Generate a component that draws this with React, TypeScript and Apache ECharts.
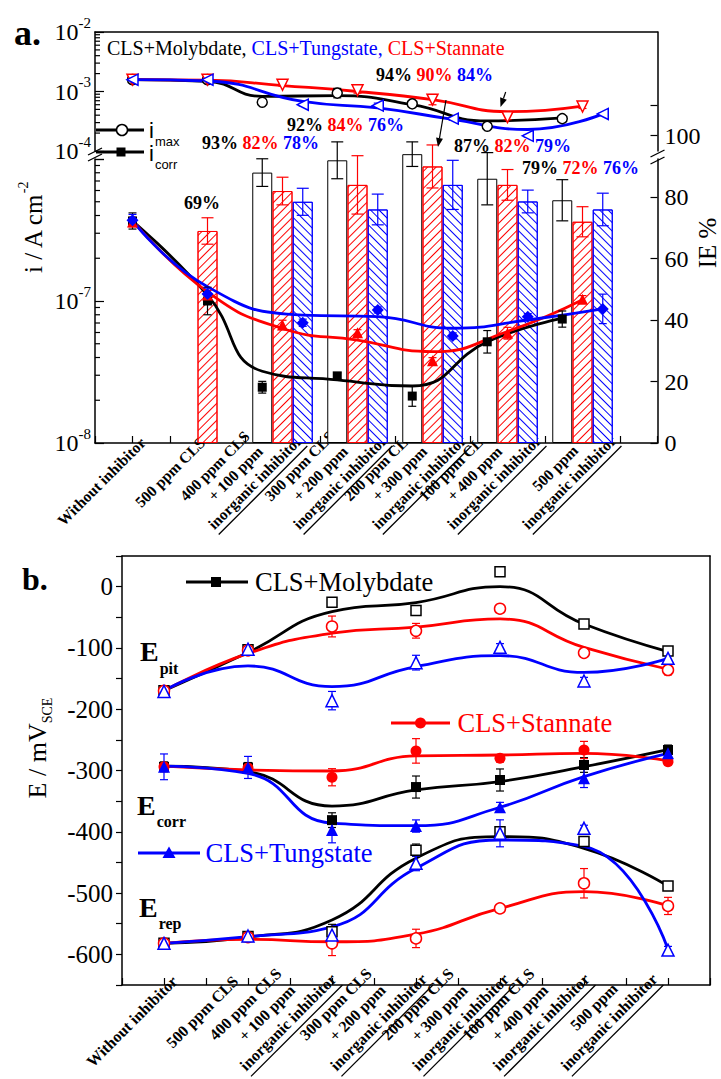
import React, { useEffect, useRef } from 'react';
import * as echarts from 'echarts';

const SERIF = 'Liberation Serif, Times New Roman, serif';
const SANS = 'Liberation Sans, Arial, sans-serif';
const BLACK = '#000000';
const RED = '#ff0000';
const BLUE = '#0000ff';

// ---------- categories ----------
const categories = [
  'Without inhibitor',
  '500 ppm CLS',
  '400 ppm CLS\n+ 100 ppm\ninorganic inhibitor',
  '300 ppm CLS\n+ 200 ppm\ninorganic inhibitor',
  '200 ppm CLS\n+ 300 ppm\ninorganic inhibitor',
  '100 ppm CLS\n+ 400 ppm\ninorganic inhibitor',
  '500 ppm\ninorganic inhibitor',
];

// ---------- panel a : i_max (A cm-2) ----------
const imaxMo = [1.58e-3, 1.58e-3, 6.6e-4, 9.4e-4, 6.2e-4, 2.6e-4, 3.5e-4];
const imaxSn = [1.58e-3, 1.58e-3, 1.3e-3, 1.05e-3, 7.3e-4, 3.7e-4, 5.6e-4];
const imaxW = [1.58e-3, 1.58e-3, 6.0e-4, 5.8e-4, 3.5e-4, 1.8e-4, 4.2e-4];
const imaxFitMo = [1.58e-3, 1.48e-3, 8.3e-4, 8.5e-4, 6.0e-4, 3.2e-4, 3.6e-4];
const imaxFitSn = [1.58e-3, 1.55e-3, 1.26e-3, 1.0e-3, 7.3e-4, 4.6e-4, 5.7e-4];
const imaxFitW = [1.58e-3, 1.5e-3, 6.8e-4, 5.3e-4, 3.4e-4, 2.3e-4, 4.2e-4];
const imaxErrMo = [1.08, 1.08, 1.1, 1.2, 1.1, 1.1, 1.05];
const imaxErrSn = [1.08, 1.08, 1.06, 1.12, 1.22, 1.1, 1.08];
const imaxErrW = [1.05, 1.05, 1.05, 1.1, 1.06, 1.05, 1.05];

// ---------- panel a : i_corr (A cm-2) ----------
const icorrMo = [3.66e-7, 1.0e-7, 2.47e-8, 2.97e-8, 2.14e-8, 5.16e-8, 7.46e-8];
const icorrSn = [3.6e-7, 1.1e-7, 6.78e-8, 5.98e-8, 3.8e-8, 5.93e-8, 1.03e-7];
const icorrW = [3.7e-7, 1.12e-7, 7.03e-8, 8.65e-8, 5.68e-8, 7.76e-8, 8.8e-8];
const icorrFitMo = [3.66e-7, 1.1e-7, 3.2e-8, 2.78e-8, 2.52e-8, 5.16e-8, 7.55e-8];
const icorrFitSn = [3.7e-7, 1.16e-7, 6.4e-8, 5.3e-8, 4.4e-8, 6.1e-8, 1.02e-7];
const icorrFitW = [3.7e-7, 1.26e-7, 7.96e-8, 7.76e-8, 6.43e-8, 7.35e-8, 8.8e-8];
const icorrErrMo = [1.14, 1.25, 1.1, 1.05, 1.18, 1.2, 1.14];
const icorrErrSn = [1.08, 1.08, 1.08, 1.05, 1.05, 1.1, 1.06];
const icorrErrW = [1.1, 1.1, 1.06, 1.05, 1.05, 1.05, 1.27];

// ---------- panel a : IE % bars ----------
const ieMo = [null, null, 88, 92, 94, 86, 79];
const ieSn = [null, 69, 82, 84, 90, 84, 72];
const ieW = [null, null, 78.5, 76, 84, 78.6, 76];
const ieErrMo = [0, 0, 4.5, 6, 4, 8.5, 6.7];
const ieErrSn = [0, 4.3, 4.5, 9.5, 7, 5, 4.9];
const ieErrW = [0, 0, 4.4, 5, 8, 3.7, 5.3];
const iePercentText = [
  ['69%', '', ''],
  ['93%', '82%', '78%'],
  ['92%', '84%', '76%'],
  ['94%', '90%', '84%'],
  ['87%', '82%', '79%'],
  ['79%', '72%', '76%'],
];

// ---------- panel b : potentials (mV_SCE) ----------
const epitMo = [-170, -103, -25.5, -39, 24.5, -61, -105];
const epitSn = [-170, -104, -65, -72, -36, -108, -136];
const epitW = [-171, -102, -186, -124, -99, -154, -117];
const epitFitMo = [-170, -107.6, -40.8, -26, 0, -61, -106];
const epitFitSn = [-170, -109, -76, -66, -52.7, -99, -134.8];
const epitFitW = [-170, -129.4, -163, -130.5, -112.6, -140, -117];
const epitErrMo = [6, 4, 4, 4, 4, 5, 5];
const epitErrSn = [5, 5, 17, 12, 6, 6, 8];
const epitErrW = [5, 5, 15, 12, 6, 6, 6];

const ecorrMo = [-294, -295, -381, -327, -315.5, -291, -266.5];
const ecorrSn = [-294, -296, -311, -268, -280, -266.5, -285.6];
const ecorrW = [-294, -295, -397, -390.6, -360, -312.8, -272];
const ecorrFitMo = [-293, -302, -358, -331.8, -318, -293.8, -266];
const ecorrFitSn = [-293, -299, -300.8, -276.3, -274.7, -272, -284];
const ecorrFitW = [-293, -304.6, -386, -390, -360, -310, -272];
const ecorrErrMo = [8, 8, 12, 18, 18, 12, 8];
const ecorrErrSn = [6, 6, 14, 20, 6, 14, 5];
const ecorrErrW = [21, 18, 21, 10, 8, 15, 8];

const erepMo = [-582, -571, -563, -430, -400, -416, -488.5];
const erepSn = [-582, -572, -582, -574, -525, -484, -521];
const erepW = [-582, -570, -568.5, -451.5, -402.5, -394.3, -593];
const erepFitMo = [-582, -572, -544, -443, -408, -427, -488.5];
const erepFitSn = [-582, -575.5, -579.4, -567, -525, -497.8, -521];
const erepFitW = [-582, -571, -555, -459.6, -413.4, -424, -591.8];
const erepErrMo = [5, 5, 12, 10, 8, 6, 5];
const erepErrSn = [5, 5, 20, 15, 5, 24, 14];
const erepErrW = [5, 5, 10, 12, 22, 5, 6];

// ---------- layout constants ----------
const BAR_OFFSET = 0.27; // black / blue bars beside the red one
const LABEL_PAD_A = [16, 27, 10, 3, 0, 0, 0];
const LABEL_PAD_B = [4, 19, 6, 0, 0, 1, 11];
const UPPER_DECADES = [-4, -3];
const LOWER_DECADES = [-8, -7];

const xPos = (off: number) => categories.map((_, i) => (i < 2 ? i : i + off));
const xMoA = xPos(-BAR_OFFSET);
const xSnA = xPos(0);
const xWA = xPos(BAR_OFFSET);
const xB = categories.map((_, i) => i);

function measure(text: string, font: string) {
  const c = document.createElement('canvas').getContext('2d');
  if (!c) return text.length * 7;
  c.font = font;
  return c.measureText(text).width;
}

function catRich(fs: number, lh: number, uw: number) {
  const base = { fontFamily: SERIF, fontWeight: 'bold', fontSize: fs, lineHeight: lh, color: '#000', align: 'left' };
  return {
    t: base,
    t2: { ...base, padding: [0, 0, 0, 20] },
    tc: { ...base, align: 'center' },
    u: { width: uw, height: 1.3, lineHeight: 3, fontSize: 1, backgroundColor: '#000', align: 'left' },
  };
}
function catFormatter(v: string) {
  const l = v.split('\n');
  if (l.length === 1) return `{t|${v}}`;
  if (l.length === 2) return `{tc|${l[0]}}\n{t|${l[1]}}\n{u| }`;
  return `{t|${l[0]}}\n{t2|${l[1]}}\n{t|${l[2]}}\n{u| }`;
}
function catItems(pads: number[], rich: any) {
  return categories.map((c, i) => ({
    value: c,
    textStyle: { align: 'right', verticalAlign: 'bottom', padding: [0, pads[i], pads[i], 0], rich },
  }));
}

const pow10Rich = {
  b: { fontFamily: SERIF, fontSize: 24, lineHeight: 34, color: '#000' },
  s: { fontFamily: SERIF, fontSize: 15, color: '#000', verticalAlign: 'top' },
};
const pow10 = (v: number) => `{b|10}{s|${Math.round(Math.log10(v))}}`;

function scat(xs: number[], ys: number[], sym: string, color: string, filled: boolean, size: number, xi: number, yi: number, rot = 0) {
  return {
    type: 'scatter', xAxisIndex: xi, yAxisIndex: yi, symbol: sym, symbolSize: size, symbolRotate: rot,
    data: ys.map((v, i) => [xs[i], v]),
    itemStyle: { color: filled ? color : '#ffffff', borderColor: color, borderWidth: filled ? 0 : 1.5, opacity: 1 },
    z: 6, silent: true,
  };
}
function fit(xs: number[], ys: number[], color: string, xi: number, yi: number) {
  return {
    type: 'line', xAxisIndex: xi, yAxisIndex: yi, data: ys.map((v, i) => [xs[i], v]),
    smooth: 0.5, symbol: 'none', lineStyle: { color, width: 2.8 }, z: 4, silent: true,
  };
}
function errBars(xs: number[], lo: number[], hi: number[], color: string, xi: number, yi: number, cap: number, z = 5) {
  const data: number[][] = [];
  xs.forEach((x, i) => { if (lo[i] != null && hi[i] != null && lo[i] !== hi[i]) data.push([x, lo[i], hi[i]]); });
  return {
    type: 'custom', xAxisIndex: xi, yAxisIndex: yi, data, encode: { x: 0, y: [1, 2] }, z, silent: true,
    renderItem: (_p: any, api: any) => {
      const x = api.value(0);
      const a = api.coord([x, api.value(1)]);
      const b = api.coord([x, api.value(2)]);
      const style = { stroke: color, lineWidth: 1.2, fill: 'none' };
      return {
        type: 'group',
        children: [
          { type: 'line', shape: { x1: a[0], y1: a[1], x2: b[0], y2: b[1] }, style },
          { type: 'line', shape: { x1: a[0] - cap, y1: a[1], x2: a[0] + cap, y2: a[1] }, style },
          { type: 'line', shape: { x1: b[0] - cap, y1: b[1], x2: b[0] + cap, y2: b[1] }, style },
        ],
      };
    },
  };
}
const mulErr = (xs: number[], v: number[], f: number[], color: string, xi: number, yi: number) =>
  errBars(xs, v.map((y, i) => y / f[i]), v.map((y, i) => y * f[i]), color, xi, yi, 4);
const addErr = (v: number[], e: number[], color: string) =>
  errBars(xB, v.map((y, i) => y - e[i]), v.map((y, i) => y + e[i]), color, 5, 6, 4);

// log-spaced minor ticks (2..9 x 10^d) drawn on the left axis through the axis scale
function logMinorTicks(xi: number, yi: number, decades: number[], xAt: number, len: number) {
  const data: number[][] = [];
  decades.forEach((d) => { for (let k = 2; k <= 9; k++) data.push([xAt, k * Math.pow(10, d)]); });
  return {
    type: 'custom', xAxisIndex: xi, yAxisIndex: yi, data, encode: { x: 0, y: 1 }, silent: true, z: 10,
    renderItem: (_p: any, api: any) => {
      const c = api.coord([api.value(0), api.value(1)]);
      return { type: 'line', shape: { x1: c[0], y1: c[1], x2: c[0] + len, y2: c[1] }, style: { stroke: '#000', lineWidth: 1.2 } };
    },
  };
}

function bars(xs: number[], vals: (number | null)[], color: string, decalRot: number | null) {
  const data: number[][] = [];
  vals.forEach((v, i) => { if (v != null) data.push([xs[i], v]); });
  const itemStyle: any = { color: '#ffffff', borderColor: color, borderWidth: 1 };
  if (decalRot != null) {
    itemStyle.decal = { symbol: 'rect', symbolSize: 1, color, dashArrayX: [1, 0], dashArrayY: [1, 5], rotation: decalRot };
  }
  return { type: 'bar', xAxisIndex: 3, yAxisIndex: 4, barWidth: 20, barGap: '-100%', data, itemStyle, z: 1, silent: true };
}
function barErr(xs: number[], vals: (number | null)[], e: number[], color: string) {
  const lo: number[] = [], hi: number[] = [];
  vals.forEach((v, i) => { lo.push(v == null ? (null as any) : v - e[i]); hi.push(v == null ? (null as any) : v + e[i]); });
  return errBars(xs, lo, hi, color, 3, 4, 6, 2);
}

function arrow(x1: number, y1: number, x2: number, y2: number) {
  const dx = x2 - x1, dy = y2 - y1, L = Math.hypot(dx, dy), ux = dx / L, uy = dy / L;
  const hl = 9, hw = 3.5, bx = x2 - ux * hl, by = y2 - uy * hl;
  return [
    { type: 'line', shape: { x1, y1, x2: bx, y2: by }, style: { stroke: '#000', lineWidth: 1.2 }, z: 100 },
    { type: 'polygon', shape: { points: [[x2, y2], [bx - uy * hw, by + ux * hw], [bx + uy * hw, by - ux * hw]] }, style: { fill: '#000' }, z: 100 },
  ];
}
function txt(x: number, y: number, text: string, o: any = {}) {
  return {
    type: 'text', x, y, z: 100, silent: true, rotation: o.rotation || 0,
    style: {
      text, fill: o.fill || '#000', fontFamily: o.fontFamily || SERIF, fontSize: o.fontSize || 16,
      fontWeight: o.fontWeight || 'normal', align: o.align || 'left', verticalAlign: o.verticalAlign || 'middle', rich: o.rich,
    },
  };
}
// main letter with a subscript, as one rich text
function subText(x: number, y: number, main: string, sub: string, family: string, weight: string, fs: number, sfs: number, lh: number) {
  return txt(x, y, `{m|${main}}{s|${sub}}`, {
    fontFamily: family, fontSize: fs, fontWeight: weight,
    rich: {
      m: { fontFamily: family, fontWeight: weight, fontSize: fs, lineHeight: lh, fill: BLACK },
      s: { fontFamily: family, fontWeight: weight, fontSize: sfs, fill: BLACK, verticalAlign: 'bottom', padding: [0, 0, 0, 1] },
    },
  });
}

function buildOption() {
  const uwA = measure('inorganic inhibitor', `bold 15.5px Liberation Serif`);
  const uwB = measure('inorganic inhibitor', `bold 16px Liberation Serif`);
  const richA = catRich(15.5, 20, uwA);
  const richB = catRich(16, 21.5, uwB);

  const axisLineBlack = { show: true, onZero: false, lineStyle: { color: '#000', width: 1.5 } };
  const frameOnlyX = (gi: number, min: number, max: number) => ({
    type: 'value', gridIndex: gi, position: 'top', min, max, axisLine: axisLineBlack,
    axisTick: { show: false }, axisLabel: { show: false }, splitLine: { show: false },
  });

  const pctRich = {
    k: { fill: BLACK, fontFamily: SERIF, fontWeight: 'bold', fontSize: 18 },
    r: { fill: RED, fontFamily: SERIF, fontWeight: 'bold', fontSize: 18 },
    b: { fill: BLUE, fontFamily: SERIF, fontWeight: 'bold', fontSize: 18 },
  };
  const pctPos = [[184, 203], [202, 143], [287, 125], [376, 75], [454, 146], [522, 168]];
  const pctGraphics = iePercentText.map((t, i) => {
    const parts = [] as string[];
    if (t[0]) parts.push(`{k|${t[0]}}`);
    if (t[1]) parts.push(`{r|${t[1]}}`);
    if (t[2]) parts.push(`{b|${t[2]}}`);
    return txt(pctPos[i][0], pctPos[i][1], parts.join(' '), { fontSize: 18, fontWeight: 'bold', rich: pctRich });
  });

  const graphic: any[] = [
    txt(14, 33, 'a.', { fontSize: 36, fontWeight: 'bold' }),
    txt(22, 579, 'b.', { fontSize: 32, fontWeight: 'bold' }),
    txt(107, 48, '{k|CLS+Molybdate, }{b|CLS+Tungstate, }{r|CLS+Stannate}', {
      fontSize: 20,
      rich: {
        k: { fill: BLACK, fontFamily: SERIF, fontSize: 20 },
        b: { fill: BLUE, fontFamily: SERIF, fontSize: 20 },
        r: { fill: RED, fontFamily: SERIF, fontSize: 20 },
      },
    }),
    ...pctGraphics,
    // i_max / i_corr legend
    { type: 'line', shape: { x1: 96, y1: 130, x2: 144, y2: 130 }, style: { stroke: BLACK, lineWidth: 2.8 }, z: 100 },
    { type: 'circle', shape: { cx: 122, cy: 130, r: 5.5 }, style: { fill: '#fff', stroke: BLACK, lineWidth: 1.5 }, z: 101 },
    subText(149, 130, 'i', 'max', SANS, 'normal', 22, 13, 36),
    { type: 'line', shape: { x1: 96, y1: 152, x2: 144, y2: 152 }, style: { stroke: BLACK, lineWidth: 2.8 }, z: 100 },
    { type: 'rect', shape: { x: 116.5, y: 147.5, width: 9, height: 9 }, style: { fill: BLACK }, z: 101 },
    subText(149, 153, 'i', 'corr', SANS, 'normal', 22, 13, 36),
    // arrows
    ...arrow(505.7, 92, 500.5, 107),
    ...arrow(446, 100, 438, 147),
    // axis breaks panel a
    { type: 'line', shape: { x1: 88, y1: 155, x2: 102, y2: 148 }, style: { stroke: BLACK, lineWidth: 1.3 }, z: 100 },
    { type: 'line', shape: { x1: 88, y1: 161, x2: 102, y2: 154 }, style: { stroke: BLACK, lineWidth: 1.3 }, z: 100 },
    { type: 'line', shape: { x1: 650.5, y1: 157, x2: 664.5, y2: 150 }, style: { stroke: BLACK, lineWidth: 1.3 }, z: 100 },
    { type: 'line', shape: { x1: 650.5, y1: 164, x2: 664.5, y2: 157 }, style: { stroke: BLACK, lineWidth: 1.3 }, z: 100 },
    // axis titles
    txt(33, 228, '{t|i / A cm}{s|-2}', {
      rotation: Math.PI / 2, align: 'center', fontSize: 25,
      rich: { t: { fontFamily: SERIF, fontSize: 25, lineHeight: 34, fill: BLACK }, s: { fontFamily: SERIF, fontSize: 14, fill: BLACK, verticalAlign: 'top' } },
    }),
    txt(707, 243, 'IE %', { rotation: Math.PI / 2, align: 'center', fontSize: 25 }),
    txt(37, 748, '{t|E / mV}{s|SCE}', {
      rotation: Math.PI / 2, align: 'center', fontSize: 26,
      rich: { t: { fontFamily: SERIF, fontSize: 26, lineHeight: 34, fill: BLACK }, s: { fontFamily: SERIF, fontSize: 14, fill: BLACK, verticalAlign: 'bottom' } },
    }),
    // E labels
    subText(140, 651, 'E', 'pit', SERIF, 'bold', 28, 16, 50),
    subText(137, 805.5, 'E', 'corr', SERIF, 'bold', 28, 16, 48),
    subText(139, 907.5, 'E', 'rep', SERIF, 'bold', 28, 16, 48),
    // panel b legends
    { type: 'line', shape: { x1: 186, y1: 582, x2: 248, y2: 582 }, style: { stroke: BLACK, lineWidth: 3 }, z: 100 },
    { type: 'rect', shape: { x: 211, y: 577, width: 10, height: 10 }, style: { fill: BLACK }, z: 101 },
    txt(255, 582, 'CLS+Molybdate', { fontSize: 26.5 }),
    { type: 'line', shape: { x1: 391, y1: 723, x2: 450, y2: 723 }, style: { stroke: RED, lineWidth: 3 }, z: 100 },
    { type: 'circle', shape: { cx: 420.5, cy: 723, r: 5.5 }, style: { fill: RED }, z: 101 },
    txt(457.5, 723, 'CLS+Stannate', { fontSize: 26.5, fill: RED }),
    { type: 'line', shape: { x1: 138, y1: 853, x2: 200, y2: 853 }, style: { stroke: BLUE, lineWidth: 3 }, z: 100 },
    { type: 'polygon', shape: { points: [[169, 846.5], [162.5, 858], [175.5, 858]] }, style: { fill: BLUE }, z: 101 },
    txt(205.5, 853, 'CLS+Tungstate', { fontSize: 26.5, fill: BLUE }),
  ];

  const series: any[] = [
    // bars (IE %)
    bars(xMoA, ieMo, BLACK, null),
    bars(xSnA, ieSn, RED, -Math.PI / 4),
    bars(xWA, ieW, BLUE, Math.PI / 4),
    barErr(xMoA, ieMo, ieErrMo, BLACK),
    barErr(xSnA, ieSn, ieErrSn, RED),
    barErr(xWA, ieW, ieErrW, BLUE),
    // minor log ticks
    logMinorTicks(0, 0, UPPER_DECADES, -0.5, 5),
    logMinorTicks(2, 2, LOWER_DECADES, -0.5, 5),
    // i_max (upper grid)
    fit(xMoA, imaxFitMo, BLACK, 0, 0),
    fit(xSnA, imaxFitSn, RED, 0, 0),
    fit(xWA, imaxFitW, BLUE, 0, 0),
    mulErr(xMoA, imaxMo, imaxErrMo, BLACK, 0, 0),
    mulErr(xSnA, imaxSn, imaxErrSn, RED, 0, 0),
    mulErr(xWA, imaxW, imaxErrW, BLUE, 0, 0),
    scat(xMoA, imaxMo, 'circle', BLACK, false, 10, 0, 0),
    scat(xSnA, imaxSn, 'triangle', RED, false, 11, 0, 0, 180),
    scat(xWA, imaxW, 'triangle', BLUE, false, 11, 0, 0, 90),
    // i_corr (lower grid)
    fit(xMoA, icorrFitMo, BLACK, 2, 2),
    fit(xSnA, icorrFitSn, RED, 2, 2),
    fit(xWA, icorrFitW, BLUE, 2, 2),
    mulErr(xMoA, icorrMo, icorrErrMo, BLACK, 2, 2),
    mulErr(xSnA, icorrSn, icorrErrSn, RED, 2, 2),
    mulErr(xWA, icorrW, icorrErrW, BLUE, 2, 2),
    scat(xMoA, icorrMo, 'rect', BLACK, true, 9, 2, 2),
    scat(xSnA, icorrSn, 'triangle', RED, true, 11, 2, 2),
    scat(xWA, icorrW, 'diamond', BLUE, true, 12, 2, 2),
    // panel b
    fit(xB, epitFitMo, BLACK, 5, 6),
    fit(xB, epitFitSn, RED, 5, 6),
    fit(xB, epitFitW, BLUE, 5, 6),
    fit(xB, ecorrFitMo, BLACK, 5, 6),
    fit(xB, ecorrFitSn, RED, 5, 6),
    fit(xB, ecorrFitW, BLUE, 5, 6),
    fit(xB, erepFitMo, BLACK, 5, 6),
    fit(xB, erepFitSn, RED, 5, 6),
    fit(xB, erepFitW, BLUE, 5, 6),
    addErr(epitMo, epitErrMo, BLACK),
    addErr(epitSn, epitErrSn, RED),
    addErr(epitW, epitErrW, BLUE),
    addErr(ecorrMo, ecorrErrMo, BLACK),
    addErr(ecorrSn, ecorrErrSn, RED),
    addErr(ecorrW, ecorrErrW, BLUE),
    addErr(erepMo, erepErrMo, BLACK),
    addErr(erepSn, erepErrSn, RED),
    addErr(erepW, erepErrW, BLUE),
    scat(xB, epitMo, 'rect', BLACK, false, 10, 5, 6),
    scat(xB, epitSn, 'circle', RED, false, 11, 5, 6),
    scat(xB, epitW, 'triangle', BLUE, false, 12, 5, 6),
    scat(xB, ecorrMo, 'rect', BLACK, true, 10, 5, 6),
    scat(xB, ecorrSn, 'circle', RED, true, 11, 5, 6),
    scat(xB, ecorrW, 'triangle', BLUE, true, 12, 5, 6),
    scat(xB, erepMo, 'rect', BLACK, false, 10, 5, 6),
    scat(xB, erepSn, 'circle', RED, false, 11, 5, 6),
    scat(xB, erepW, 'triangle', BLUE, false, 12, 5, 6),
  ];

  return {
    animation: false,
    backgroundColor: '#ffffff',
    textStyle: { fontFamily: SERIF },
    grid: [
      { left: 95, top: 32, width: 562.5, height: 119 },
      { left: 95, top: 159, width: 562.5, height: 284 },
      { left: 95, top: 105, width: 562.5, height: 338 },
      { left: 135, top: 159, width: 525, height: 284 },
      { left: 122, top: 556, width: 588, height: 429 },
      { left: 147, top: 556, width: 588, height: 429 },
    ],
    xAxis: [
      { type: 'value', gridIndex: 0, min: -0.5, max: 7, show: false },
      frameOnlyX(0, -0.5, 7),
      {
        type: 'value', gridIndex: 1, position: 'bottom', min: -0.5, max: 7, interval: 0.5,
        axisLine: axisLineBlack, axisTick: { show: true, inside: true, length: 7, lineStyle: { color: '#000', width: 1.2 } },
        axisLabel: { show: false }, splitLine: { show: false },
      },
      { type: 'value', gridIndex: 2, min: -0.5, max: 7, show: false },
      {
        type: 'category', gridIndex: 3, data: catItems(LABEL_PAD_A, richA),
        axisLine: { show: false }, axisTick: { show: false }, splitLine: { show: false },
        axisLabel: { interval: 0, rotate: 45, margin: 4, align: 'right', verticalAlign: 'bottom', formatter: catFormatter, rich: richA },
      },
      {
        type: 'value', gridIndex: 4, position: 'bottom', min: -0.5, max: 6.5, interval: 0.5,
        axisLine: axisLineBlack, axisTick: { show: true, inside: true, length: 7, lineStyle: { color: '#000', width: 1.2 } },
        axisLabel: { show: false }, splitLine: { show: false },
      },
      frameOnlyX(4, -0.5, 6.5),
      {
        type: 'category', gridIndex: 5, data: catItems(LABEL_PAD_B, richB),
        axisLine: { show: false }, axisTick: { show: false }, splitLine: { show: false },
        axisLabel: { interval: 0, rotate: 45, margin: 3, align: 'right', verticalAlign: 'bottom', formatter: catFormatter, rich: richB },
      },
    ],
    yAxis: [
      {
        type: 'log', logBase: 10, gridIndex: 0, min: 1e-4, max: 1e-2, position: 'left',
        axisLine: axisLineBlack, axisTick: { show: true, inside: true, length: 9, lineStyle: { color: '#000', width: 1.2 } },
        axisLabel: { formatter: pow10, rich: pow10Rich, margin: 4 }, splitLine: { show: false },
      },
      {
        type: 'log', logBase: 10, gridIndex: 0, min: 1e-4, max: 1e-2, position: 'right',
        axisLine: axisLineBlack, axisTick: { show: false }, axisLabel: { show: false }, splitLine: { show: false },
      },
      {
        type: 'log', logBase: 10, gridIndex: 1, min: 1e-8, max: 1e-6, position: 'left',
        axisLine: axisLineBlack, axisTick: { show: true, inside: true, length: 9, lineStyle: { color: '#000', width: 1.2 } },
        axisLabel: { formatter: (v: number) => (Math.round(Math.log10(v)) >= -6 ? '' : pow10(v)), rich: pow10Rich, margin: 4 },
        splitLine: { show: false },
      },
      {
        type: 'log', logBase: 10, gridIndex: 1, min: 1e-8, max: 1e-6, position: 'right',
        axisLine: axisLineBlack, axisTick: { show: false }, axisLabel: { show: false }, splitLine: { show: false },
      },
      {
        type: 'value', gridIndex: 2, min: 0, max: 110, interval: 20, position: 'right',
        axisLine: { show: false, onZero: false }, axisTick: { show: true, inside: true, length: 7, lineStyle: { color: '#000', width: 1.2 } },
        axisLabel: { formatter: (v: number) => (v > 100 ? '' : String(v)), fontFamily: SERIF, fontSize: 24, color: '#000', margin: 7 },
        splitLine: { show: false },
      },
      { type: 'value', gridIndex: 3, show: false },
      {
        type: 'value', gridIndex: 4, min: -650, max: 50, interval: 50, position: 'left',
        axisLine: axisLineBlack, axisTick: { show: true, inside: false, length: 6, lineStyle: { color: '#000', width: 1.2 } },
        axisLabel: { formatter: (v: number) => (v % 100 === 0 ? String(v) : ''), fontFamily: SERIF, fontSize: 25, color: '#000', margin: 9 },
        splitLine: { show: false },
      },
      {
        type: 'value', gridIndex: 4, min: -650, max: 50, position: 'right',
        axisLine: axisLineBlack, axisTick: { show: false }, axisLabel: { show: false }, splitLine: { show: false },
      },
      { type: 'value', gridIndex: 5, show: false },
    ],
    series,
    graphic,
  };
}

export default function App() {
  const ref = useRef<HTMLDivElement>(null);
  useEffect(() => {
    document.body.style.margin = '0';
    const chart = echarts.init(ref.current as HTMLDivElement, null, { renderer: 'svg' });
    chart.setOption(buildOption() as any);
    return () => chart.dispose();
  }, []);
  return <div ref={ref} style={{ width: 721, height: 1079 }} />;
}
